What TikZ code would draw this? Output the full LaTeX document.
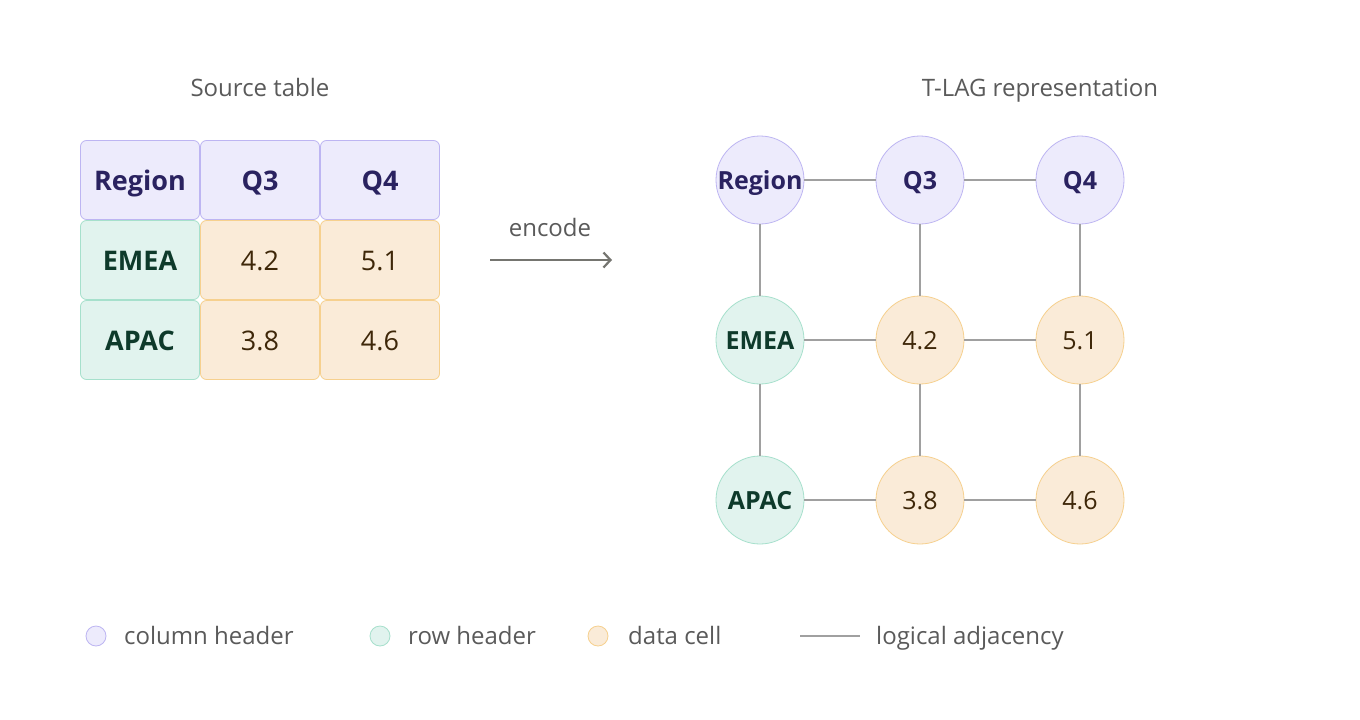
\documentclass[tikz,border=0pt]{standalone}
\usepackage{fontspec}
\setmainfont{Open Sans}
\usetikzlibrary{arrows.meta}
\definecolor{colfill}{HTML}{EDEBFC}
\definecolor{coldraw}{HTML}{BDB5F2}
\definecolor{coltext}{HTML}{2A2260}
\definecolor{rowfill}{HTML}{E1F3EE}
\definecolor{rowdraw}{HTML}{A6E0CC}
\definecolor{rowtext}{HTML}{0E3A2B}
\definecolor{datfill}{HTML}{FAEBD8}
\definecolor{datdraw}{HTML}{F6D08E}
\definecolor{dattext}{HTML}{3E2709}
\definecolor{edgec}{HTML}{A0A0A0}
\definecolor{labc}{HTML}{5A5A5A}
\definecolor{arrc}{HTML}{757570}
\begin{document}
\begin{tikzpicture}[x=1pt,y=-1pt,
  cell/.style={rectangle,rounded corners=6pt,minimum width=119pt,minimum height=79pt,line width=0.8pt,inner sep=0pt,text height=21pt,text depth=0pt},
  gnode/.style={circle,minimum size=88pt,line width=0.8pt,inner sep=0pt,text height=19.5pt,text depth=0pt},
  big/.style={font=\fontsize{27}{30}\selectfont},
  mid/.style={font=\fontsize{25}{28}\selectfont},
  colh/.style={fill=colfill,draw=coldraw,text=coltext},
  rowh/.style={fill=rowfill,draw=rowdraw,text=rowtext},
  datc/.style={fill=datfill,draw=datdraw,text=dattext},
  edge/.style={draw=edgec,line width=1.3pt},
  title/.style={text=labc,font=\fontsize{24}{28}\selectfont,text height=17pt,text depth=0pt,inner sep=0pt},
  legtext/.style={text=labc,font=\fontsize{24}{28}\selectfont,anchor=west,text height=17pt,text depth=0pt,inner sep=0pt},
  legdot/.style={circle,minimum size=20pt,inner sep=0pt,line width=0.8pt}]
\useasboundingbox (0,0) rectangle (1360,720);
\fill[white] (0,0) rectangle (1360,720);
% titles
\node[title] (t1) at (260,88) {Source table};
\node[title] (t2) at (1040,88) {T-LAG representation};
% table
\node[cell,colh,big] (r) at (140,180) {\bfseries Region};
\node[cell,colh,big] (q3) at (260,180) {\bfseries Q3};
\node[cell,colh,big] (q4) at (380,180) {\bfseries Q4};
\node[cell,rowh,big] (e) at (140,260) {\bfseries EMEA};
\node[cell,datc,big] (e3) at (260,260) {4.2};
\node[cell,datc,big] (e4) at (380,260) {5.1};
\node[cell,rowh,big] (a) at (140,340) {\bfseries APAC};
\node[cell,datc,big] (a3) at (260,340) {3.8};
\node[cell,datc,big] (a4) at (380,340) {4.6};
% arrow
\coordinate (as) at (490,260);
\coordinate (ae) at (612,260);
\draw[draw=arrc,line width=2.4pt,-{Straight Barb[length=7pt,width=15pt,line width=2.2pt]}] (as) -- (ae);
\node[title] (enc) at (550,228) {encode};
% graph
\node[gnode,colh,mid] (gr) at (760,180) {\bfseries Region};
\node[gnode,colh,mid] (gq3) at (920,180) {\bfseries Q3};
\node[gnode,colh,mid] (gq4) at (1080,180) {\bfseries Q4};
\node[gnode,rowh,mid] (ge) at (760,340) {\bfseries EMEA};
\node[gnode,datc,mid] (ge3) at (920,340) {4.2};
\node[gnode,datc,mid] (ge4) at (1080,340) {5.1};
\node[gnode,rowh,mid] (ga) at (760,500) {\bfseries APAC};
\node[gnode,datc,mid] (ga3) at (920,500) {3.8};
\node[gnode,datc,mid] (ga4) at (1080,500) {4.6};
\draw[edge] (gr) -- (gq3);
\draw[edge] (gq3) -- (gq4);
\draw[edge] (ge) -- (ge3);
\draw[edge] (ge3) -- (ge4);
\draw[edge] (ga) -- (ga3);
\draw[edge] (ga3) -- (ga4);
\draw[edge] (gr) -- (ge);
\draw[edge] (ge) -- (ga);
\draw[edge] (gq3) -- (ge3);
\draw[edge] (ge3) -- (ga3);
\draw[edge] (gq4) -- (ge4);
\draw[edge] (ge4) -- (ga4);
% legend
\node[legdot,fill=colfill,draw=coldraw] (l1) at (96,636) {};
\node[legtext] (l1t) at (124,636) {column header};
\node[legdot,fill=rowfill,draw=rowdraw] (l2) at (380,636) {};
\node[legtext] (l2t) at (408,636) {row header};
\node[legdot,fill=datfill,draw=datdraw] (l3) at (598,636) {};
\node[legtext] (l3t) at (628,636) {data cell};
\coordinate (l4a) at (800,636);
\coordinate (l4b) at (860,636);
\draw[edge] (l4a) -- (l4b);
\node[legtext] (l4t) at (876,636) {logical adjacency};
\end{tikzpicture}
\end{document}
